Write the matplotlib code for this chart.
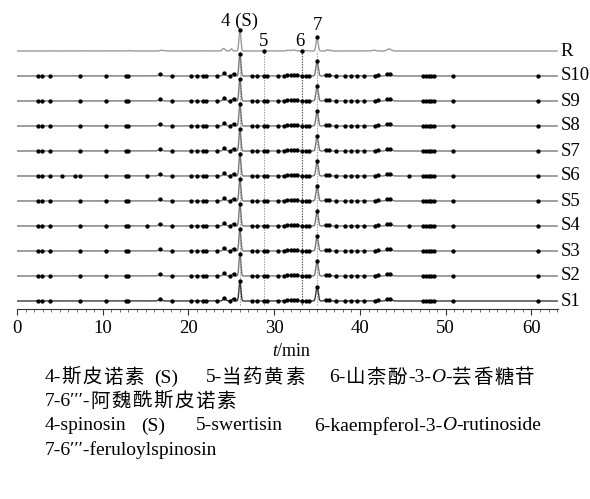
import numpy as np
import matplotlib
matplotlib.use("Agg")
import matplotlib.pyplot as plt
from matplotlib.ticker import MultipleLocator

# ---------------- data ----------------
trace_names = ["S1", "S2", "S3", "S4", "S5", "S6", "S7", "S8", "S9", "S10", "R"]

# peak tables for sample traces: retention time (min), height (a.u.), width (min)
s_peak_t = [26.0, 35.0, 24.2, 25.2, 16.7, 43.4, 36.0, 36.4, 32.3, 42.0, 23.3, 31.6]
s_peak_h = [21.0, 15.0, 3.0, 2.5, 1.8, 2.5, 1.2, 1.0, 1.0, 0.8, 0.5, 0.8]
s_peak_w = [0.11, 0.13, 0.15, 0.12, 0.2, 0.25, 0.15, 0.15, 0.3, 0.2, 0.2, 0.2]
# per-trace height of the two main peaks (S1..S10)
s_main_h4 = [20.0, 22.0, 22.0, 22.0, 22.0, 22.0, 22.0, 22.0, 22.0, 22.0]
s_main_h7 = [14.5, 15.0, 15.0, 15.0, 15.0, 15.0, 15.0, 15.0, 15.0, 15.0]

# reference trace peaks
r_peak_t = [26.0, 35.0, 24.1, 25.0, 43.4, 41.6, 36.2, 36.6, 31.6, 32.3, 16.9, 33.7, 13.0]
r_peak_h = [21.0, 14.0, 2.5, 2.0, 2.0, 0.8, 1.2, 0.8, 0.8, 1.0, 0.8, 0.5, 0.4]
r_peak_w = [0.11, 0.12, 0.15, 0.12, 0.25, 0.2, 0.12, 0.1, 0.2, 0.2, 0.2, 0.2, 0.2]

# marked peaks (dots) common to all sample traces
s_marks = [2.4, 2.9, 3.9, 7.3, 10.4, 12.7, 13.0, 16.7, 18.1, 20.3, 21.0, 21.7,
           22.1, 23.3, 24.2, 24.8, 25.3, 26.0, 27.4, 28.0, 28.8, 29.2, 30.4,
           31.1, 31.5, 31.9, 32.3, 32.6, 33.2, 33.7, 34.1, 35.0, 36.0, 36.4,
           37.2, 38.2, 38.9, 39.7, 40.5, 41.7, 42.1, 43.2, 43.5, 47.4, 47.7,
           48.0, 48.3, 48.6, 50.9, 60.8]
# extra marks for individual traces
extra_marks = {"S6": [5.2, 6.8, 15.2, 45.7], "S4": [15.2, 45.7]}
r_marks = [26.0, 28.8, 33.2, 35.0]

peak_labels = ["4 (S)", "5", "6", "7"]
peak_label_t = [26.0, 28.7, 33.0, 35.0]
guide_t = [26.0, 28.8, 33.2, 35.0]

x_ticks = [0, 10, 20, 30, 40, 50, 60]

legend_cn_1 = ["4-斯皮诺素", "(S)", "5-当药黄素", ["6-山柰酚-3-", "O", "-芸香糖苷"]]
legend_cn_2 = "7-6′′′-阿魏酰斯皮诺素"
legend_en_1 = ["4-spinosin", "(S)", "5-swertisin", ["6-kaempferol-3-", "O", "-rutinoside"]]
legend_en_2 = "7-6′′′-feruloylspinosin"

# ---------------- figure ----------------
W, H = 590, 499
fig = plt.figure(figsize=(W / 100, H / 100), dpi=100)
ax_bottom_px, ax_top_px = 309, 8
ax = fig.add_axes([17 / W, (H - ax_bottom_px) / H, (558 - 17) / W,
                   (ax_bottom_px - ax_top_px) / H])
ax.set_xlim(0, 63.1)
ax.set_ylim(0, ax_bottom_px - ax_top_px)

serif = ["Liberation Serif", "Noto Sans CJK SC", "DejaVu Sans"]

t = np.linspace(0, 63.0, 8000)


def build(pt, ph, pw):
    y = np.zeros_like(t)
    for c, h, w in zip(pt, ph, pw):
        y += h * np.exp(-0.5 * ((t - c) / w) ** 2)
    return y


spacing = 25.0
base0 = 8.0
for i, name in enumerate(trace_names):
    base = base0 + i * spacing
    if name == "R":
        y = build(r_peak_t, r_peak_h, r_peak_w)
        marks = r_marks
        col = "#9a9a9a"
    else:
        h = list(s_peak_h)
        h[0] = s_main_h4[i]
        h[1] = s_main_h7[i]
        y = build(s_peak_t, h, s_peak_w)
        marks = sorted(s_marks + extra_marks.get(name, []))
        col = "#3a3a3a" if name == "S1" else "#777777"
    ax.plot(t, y + base, color=col, lw=1.0, zorder=3)
    my = np.interp(marks, t, y) + base
    ax.plot(marks, my, ls="none", marker="o", ms=2.1, color="black", zorder=4)
    ax.text(63.4, base, name, ha="left", va="center", fontsize=13.5,
            family=serif, clip_on=False)

# guide lines
top_line = base0 + 10 * spacing
for gt in guide_t:
    c = "#444444" if gt == 33.2 else "#999999"
    ax.plot([gt, gt], [base0 - 4, top_line], ls=(0, (1.2, 1.2)), lw=0.8,
            color=c, zorder=2)

# peak labels
lab_y = [top_line + 30, top_line + 9, top_line + 10, top_line + 26]
for s, lt, ly in zip(peak_labels, peak_label_t, lab_y):
    ax.text(lt, ly, s, ha="center", va="center", fontsize=13.5, family=serif)

# axes styling
for sp in ["top", "left", "right"]:
    ax.spines[sp].set_visible(False)
ax.spines["bottom"].set_color("#333333")
ax.set_yticks([])
ax.set_xticks(x_ticks)
ax.xaxis.set_minor_locator(MultipleLocator(1))
ax.tick_params(axis="x", which="major", direction="out", length=4, width=0.8,
               labelsize=13.5, pad=4, colors="#333333", labelcolor="black")
ax.tick_params(axis="x", which="minor", direction="out", length=2, width=0.6,
               colors="#555555")
for lb in ax.get_xticklabels():
    lb.set_family(serif)

renderer = fig.canvas.get_renderer()


def is_cjk(ch):
    return "\u4e00" <= ch <= "\u9fff"


def chain(segments, x0, y, fs, track=0.0):
    """Write text pieces one after another; CJK characters get extra tracking."""
    x = x0
    for s, style in segments:
        runs = []
        for ch in s:
            c = is_cjk(ch)
            if runs and runs[-1][1] == c and not c:
                runs[-1][0] += ch
            else:
                runs.append([ch, c])
        for txt, c in runs:
            tx = fig.text(x / W, 1 - y / H, txt, fontsize=fs, family=serif,
                          style=style, ha="left", va="center")
            bb = tx.get_window_extent(renderer)
            x = bb.x1 + (track if c else 0.0)
    return x


# centre the t/min label
tmp = [("t", "italic"), ("/min", "normal")]
w_total = 0
for s, st in tmp:
    tt = fig.text(0, 0, s, fontsize=13, family=serif, style=st)
    w_total += tt.get_window_extent(renderer).width
    tt.remove()
chain(tmp, 291 - w_total / 2, 352, 13)


def legend_line(items, xs, y, fs, track):
    for item, x0 in zip(items, xs):
        if isinstance(item, list):
            chain([(item[0], "normal"), (item[1], "italic"), (item[2], "normal")],
                  x0, y, fs, track)
        else:
            chain([(item, "normal")], x0, y, fs, track)


fs = 14.0
legend_line(legend_cn_1, [45, 154, 206, 329], 378, fs, 1.5)
chain([(legend_cn_2, "normal")], 45, 402, fs, 1.5)
legend_line(legend_en_1, [45, 141, 196, 314], 426, fs, 0)
chain([(legend_en_2, "normal")], 45, 450, fs)

fig.savefig("out.png", dpi=100)
